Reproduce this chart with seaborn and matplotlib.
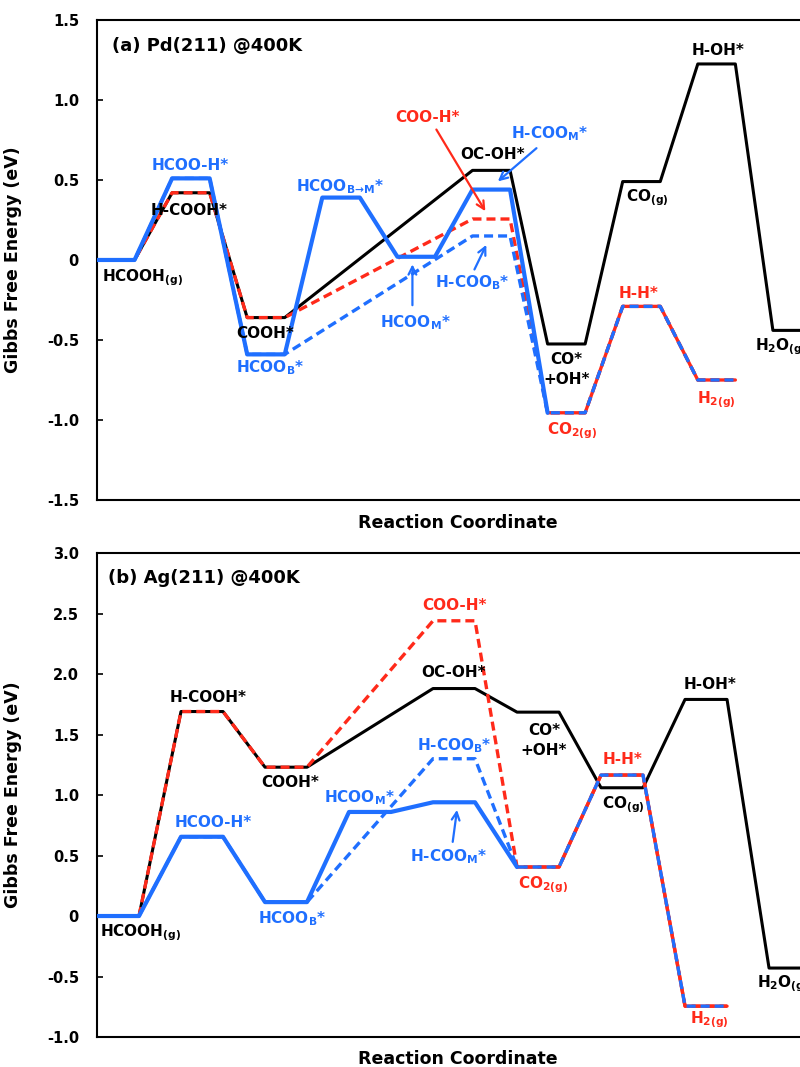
import matplotlib
matplotlib.use("Agg")
import matplotlib.pyplot as plt
import pandas as pd
import seaborn as sns

# (a) Pd(211) @400K -- slot on the reaction coordinate and free energy (eV) of each state
# COOH route to CO + H2O: HCOOH(g), H-COOH*, COOH*, OC-OH*, CO*+OH*, CO(g), H-OH*, H2O(g)
pd_cooh_slots = [0, 1, 2, 5, 6, 7, 8, 9]
pd_cooh_G = [0.00, 0.42, -0.36, 0.56, -0.525, 0.49, 1.225, -0.44]
# COOH route to CO2 + H2: HCOOH(g), H-COOH*, COOH*, COO-H*, CO2(g), H-H*, H2(g)
pd_co2_slots = [0, 1, 2, 5, 6, 7, 8]
pd_co2_G = [0.00, 0.42, -0.36, 0.256, -0.955, -0.29, -0.75]
# HCOO route via monodentate: HCOOH(g), HCOO-H*, HCOO_B*, HCOO_B->M*, HCOO_M*, H-COO_M*, CO2(g)
pd_hcoom_slots = [0, 1, 2, 3, 4, 5, 6]
pd_hcoom_G = [0.00, 0.51, -0.59, 0.39, 0.02, 0.44, -0.955]
# HCOO route via bidentate: HCOOH(g), HCOO-H*, HCOO_B*, H-COO_B*, CO2(g), H-H*, H2(g)
pd_hcoob_slots = [0, 1, 2, 5, 6, 7, 8]
pd_hcoob_G = [0.00, 0.51, -0.59, 0.15, -0.955, -0.29, -0.75]

# (b) Ag(211) @400K
ag_cooh_slots = [0, 1, 2, 4, 5, 6, 7, 8]
ag_cooh_G = [0.00, 1.69, 1.23, 1.88, 1.685, 1.06, 1.79, -0.43]
ag_co2_slots = [0, 1, 2, 4, 5, 6, 7]
ag_co2_G = [0.00, 1.69, 1.23, 2.44, 0.405, 1.165, -0.745]
ag_hcoom_slots = [0, 1, 2, 3, 4, 5]
ag_hcoom_G = [0.00, 0.655, 0.115, 0.86, 0.94, 0.405]
ag_hcoob_slots = [0, 1, 2, 4, 5, 6, 7]
ag_hcoob_G = [0.00, 0.655, 0.115, 1.30, 0.405, 1.165, -0.745]

pd_ticks = [1.5, 1.0, 0.5, 0, -0.5, -1.0, -1.5]
pd_ticklabels = ["1.5", "1.0", "0.5", "0", "-0.5", "-1.0", "-1.5"]
ag_ticks = [3.0, 2.5, 2.0, 1.5, 1.0, 0.5, 0, -0.5, -1.0]
ag_ticklabels = ["3.0", "2.5", "2.0", "1.5", "1.0", "0.5", "0", "-0.5", "-1.0"]

RED = "#ff2a1a"
BLUE = "#1f6fff"
DASH = (0, (2.7, 1.5))

sns.set_theme(style="ticks")
plt.rcParams["font.family"] = ["DejaVu Sans"]
plt.rcParams["font.weight"] = "bold"
plt.rcParams["mathtext.fontset"] = "custom"
plt.rcParams["mathtext.default"] = "regular"
for key in ["text.color", "axes.labelcolor", "xtick.color", "ytick.color", "axes.edgecolor"]:
    plt.rcParams[key] = "black"


def level_path(slots, energies, last_plateau=True):
    # each state is a flat bar half a slot wide, joined to the next by a straight line
    xs, ys = [], []
    for k, (s, g) in enumerate(zip(slots, energies)):
        xs.append(s)
        ys.append(g)
        if last_plateau or k < len(slots) - 1:
            xs.append(s + 0.5)
            ys.append(g)
    return pd.DataFrame({"x": xs, "G": ys})


def draw_paths(ax, cooh, co2, hcoom, hcoob):
    common = dict(x="x", y="G", sort=False, estimator=None, ax=ax)
    sns.lineplot(data=level_path(*cooh), color="black", lw=2.2, zorder=2, **common)
    sns.lineplot(data=level_path(*co2), color=RED, lw=2.4, linestyle=DASH, zorder=3, **common)
    # shared tail CO2(g) -> H-H* -> H2(g): red under the blue dashes
    sns.lineplot(data=level_path(co2[0][-3:], co2[1][-3:]), color=RED, lw=2.4, zorder=3, **common)
    sns.lineplot(data=level_path(*hcoob), color=BLUE, lw=2.4, linestyle=DASH, zorder=4, **common)
    sns.lineplot(data=level_path(*hcoom, last_plateau=False), color=BLUE, lw=3.0, zorder=5, **common)


def label(ax, x, y, s, color="black", ha="center", size=11):
    ax.text(x, y, s, color=color, ha=ha, va="center", fontsize=size,
            fontweight="bold", linespacing=1.35, zorder=6)


def arrow(ax, tail, tip, color):
    ax.annotate("", xy=tip, xytext=tail,
                arrowprops=dict(arrowstyle="->", color=color, lw=1.6, mutation_scale=14),
                zorder=6)


def style_axes(ax, ylim, xlim, ticks, ticklabels, label_y):
    ax.set_ylim(*ylim)
    ax.set_xlim(*xlim)
    ax.set_xticks([])
    ax.set_yticks(ticks)
    ax.set_yticklabels(ticklabels)
    ax.tick_params(axis="y", direction="in", length=4, width=1.2, pad=13, labelsize=10.5,
                   colors="black")
    for t in ax.get_yticklabels():
        t.set_fontweight("bold")
    for sp in ax.spines.values():
        sp.set_linewidth(1.5)
        sp.set_color("black")
    ax.set_xlabel("Reaction Coordinate", fontsize=12.5, fontweight="bold", color="black")
    ax.set_ylabel("Gibbs Free Energy (eV)", fontsize=12.5, fontweight="bold", color="black")
    ax.xaxis.set_label_coords(0.48, label_y)
    ax.yaxis.set_label_coords(-0.1, 0.5)


fig = plt.figure(figsize=(8, 10.67), dpi=100)
ax1 = fig.add_axes([0.12125, 0.5314, 0.93875, 0.4499])
ax2 = fig.add_axes([0.12125, 0.0281, 0.93875, 0.4536])

# ---- (a) Pd(211)
draw_paths(ax1, (pd_cooh_slots, pd_cooh_G), (pd_co2_slots, pd_co2_G),
           (pd_hcoom_slots, pd_hcoom_G), (pd_hcoob_slots, pd_hcoob_G))
style_axes(ax1, (-1.5, 1.5), (0, 10.0), pd_ticks, pd_ticklabels, -0.03)
label(ax1, 0.2, 1.34, "(a) Pd(211) @400K", ha="left", size=13)
label(ax1, 1.24, 0.59, "HCOO-H*", BLUE)
label(ax1, 1.23, 0.31, "H-COOH*")
label(ax1, 0.07, -0.11, "HCOOH$_{(g)}$", ha="left")
label(ax1, 2.24, -0.46, "COOH*")
label(ax1, 2.31, -0.675, "HCOO$_B$*", BLUE)
label(ax1, 3.23, 0.46, "HCOO$_{B→M}$*", BLUE)
label(ax1, 4.24, -0.39, "HCOO$_M$*", BLUE)
arrow(ax1, (4.2, -0.30), (4.2, -0.01), BLUE)
label(ax1, 5.0, -0.14, "H-COO$_B$*", BLUE)
arrow(ax1, (5.01, -0.075), (5.2, 0.11), BLUE)
label(ax1, 4.4, 0.89, "COO-H*", RED)
arrow(ax1, (4.5, 0.83), (5.19, 0.29), RED)
label(ax1, 6.03, 0.79, "H-COO$_M$*", BLUE)
arrow(ax1, (5.88, 0.71), (5.31, 0.48), BLUE)
label(ax1, 5.27, 0.66, "OC-OH*")
label(ax1, 7.04, 0.39, "CO$_{(g)}$", ha="left")
label(ax1, 8.27, 1.31, "H-OH*")
label(ax1, 6.25, -0.685, "CO*\n+OH*")
label(ax1, 6.33, -1.07, "CO$_{2(g)}$", RED)
label(ax1, 7.21, -0.21, "H-H*", RED)
label(ax1, 8.25, -0.875, "H$_{2(g)}$", RED)
label(ax1, 8.76, -0.545, "H$_2$O$_{(g)}$", ha="left")

# ---- (b) Ag(211)
draw_paths(ax2, (ag_cooh_slots, ag_cooh_G), (ag_co2_slots, ag_co2_G),
           (ag_hcoom_slots, ag_hcoom_G), (ag_hcoob_slots, ag_hcoob_G))
style_axes(ax2, (-1.0, 3.0), (0, 8.94), ag_ticks, ag_ticklabels, -0.027)
label(ax2, 0.13, 2.79, "(b) Ag(211) @400K", ha="left", size=13)
label(ax2, 1.32, 1.81, "H-COOH*")
label(ax2, 2.3, 1.10, "COOH*")
label(ax2, 1.38, 0.77, "HCOO-H*", BLUE)
label(ax2, 0.04, -0.14, "HCOOH$_{(g)}$", ha="left")
label(ax2, 2.32, -0.02, "HCOO$_B$*", BLUE)
label(ax2, 3.12, 0.975, "HCOO$_M$*", BLUE)
label(ax2, 4.25, 1.41, "H-COO$_B$*", BLUE)
label(ax2, 4.19, 0.49, "H-COO$_M$*", BLUE)
arrow(ax2, (4.23, 0.59), (4.29, 0.90), BLUE)
label(ax2, 5.31, 0.26, "CO$_{2(g)}$", RED)
label(ax2, 4.26, 2.57, "COO-H*", RED)
label(ax2, 4.25, 2.01, "OC-OH*")
label(ax2, 5.32, 1.45, "CO*\n+OH*")
label(ax2, 6.26, 1.29, "H-H*", RED)
label(ax2, 6.26, 0.92, "CO$_{(g)}$")
label(ax2, 7.3, 1.91, "H-OH*")
label(ax2, 7.29, -0.86, "H$_{2(g)}$", RED)
label(ax2, 7.86, -0.56, "H$_2$O$_{(g)}$", ha="left")

fig.savefig("out.png", dpi=100)
